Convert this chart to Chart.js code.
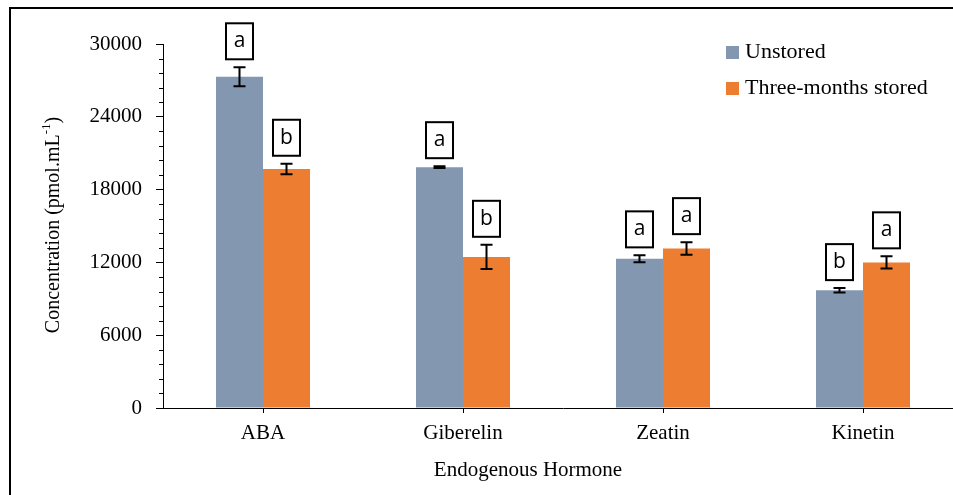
<!DOCTYPE html>
<html>
<head>
<meta charset="utf-8">
<script src="https://cdn.jsdelivr.net/npm/chart.js@4.4.1/dist/chart.umd.min.js"></script>
<style>
    html, body { margin: 0; padding: 0; background: #fff; overflow: hidden; }
    #wrap { width: 953px; height: 495px; overflow: hidden; }
</style>
</head>
<body>
<div id="wrap"><canvas id="barChart" width="973" height="495"></canvas></div>
<script>
// values
const hormones = ["ABA", "Giberelin", "Zeatin", "Kinetin"];
const unstored = [27300, 19850, 12300, 9700];
const unstoredErr = [780, 80, 280, 180];
const stored = [19700, 12450, 13150, 12000];
const storedErr = [430, 1000, 520, 500];
const unstoredLetters = ["a", "a", "a", "b"];
const storedLetters = ["b", "b", "a", "a"];
const yMax = 30000;
const yStep = 6000;
const yMinorStep = 1200;

const serif = "'Liberation Serif', 'DejaVu Serif', serif";
const blue = "#8497b0";
const orange = "#ed7d31";

const errors = [unstoredErr, storedErr];
const letters = [unstoredLetters, storedLetters];

// frame, minor ticks, error bars, letter boxes, legend, titles
const extras = {
    id: "extras",
    afterDraw(chart) {
        const ctx = chart.ctx;
        const y = chart.scales.y;
        ctx.save();

        // outer frame (left + top)
        ctx.strokeStyle = "#000";
        ctx.lineWidth = 2;
        ctx.beginPath();
        ctx.moveTo(10, 495);
        ctx.lineTo(10, 8);
        ctx.lineTo(chart.width, 8);
        ctx.stroke();

        // minor ticks
        ctx.lineWidth = 1;
        for (let v = 0; v <= yMax; v += yMinorStep) {
            if (v % yStep === 0) continue;
            const py = Math.round(y.getPixelForValue(v)) + 0.5;
            ctx.beginPath();
            ctx.moveTo(y.right - 4, py);
            ctx.lineTo(y.right, py);
            ctx.stroke();
        }

        // error bars and letters
        chart.data.datasets.forEach((ds, i) => {
            const meta = chart.getDatasetMeta(i);
            meta.data.forEach((bar, j) => {
                const v = ds.data[j];
                const e = errors[i][j];
                const top = y.getPixelForValue(v + e);
                const bot = y.getPixelForValue(v - e);
                ctx.strokeStyle = "#000";
                ctx.lineWidth = 2;
                ctx.beginPath();
                ctx.moveTo(bar.x, top);
                ctx.lineTo(bar.x, bot);
                ctx.moveTo(bar.x - 6, top);
                ctx.lineTo(bar.x + 6, top);
                ctx.moveTo(bar.x - 6, bot);
                ctx.lineTo(bar.x + 6, bot);
                ctx.stroke();

                const bw = 27, bh = 36;
                const bx = bar.x - bw / 2;
                const by = top - 8 - bh;
                ctx.fillStyle = "#fff";
                ctx.fillRect(bx, by, bw, bh);
                ctx.strokeRect(bx, by, bw, bh);
                ctx.fillStyle = "#000";
                ctx.font = "21px 'Open Sans', sans-serif";
                ctx.textAlign = "center";
                ctx.textBaseline = "middle";
                ctx.fillText(letters[i][j], bar.x, by + bh / 2);
            });
        });

        // legend
        ctx.font = "22px " + serif;
        ctx.textAlign = "left";
        ctx.textBaseline = "middle";
        chart.data.datasets.forEach((ds, i) => {
            const cy = 52 + i * 36;
            ctx.fillStyle = ds.backgroundColor;
            ctx.fillRect(726, cy - 6, 13, 13);
            ctx.fillStyle = "#000";
            ctx.fillText(ds.label, 745, cy);
        });

        // x title
        ctx.font = "21px " + serif;
        ctx.textAlign = "center";
        ctx.fillText("Endogenous Hormone", 528, 470);

        // y title with superscript
        ctx.translate(54, 225);
        ctx.rotate(-Math.PI / 2);
        const main = "Concentration (pmol.mL";
        const sup = "-1";
        const close = ")";
        ctx.font = "20px " + serif;
        const w1 = ctx.measureText(main).width;
        const w3 = ctx.measureText(close).width;
        ctx.font = "13px " + serif;
        const w2 = ctx.measureText(sup).width;
        let x0 = -(w1 + w2 + w3) / 2;
        ctx.textAlign = "left";
        ctx.font = "20px " + serif;
        ctx.fillText(main, x0, 0);
        ctx.font = "13px " + serif;
        ctx.fillText(sup, x0 + w1, -7);
        ctx.font = "20px " + serif;
        ctx.fillText(close, x0 + w1 + w2, 0);

        ctx.restore();
    }
};

const ctx = document.getElementById("barChart");
const chart = new Chart(ctx, {
    type: "bar",
    data: {
        labels: hormones,
        datasets: [{
            label: "Unstored",
            data: unstored,
            backgroundColor: blue,
            borderWidth: 0
        }, {
            label: "Three-months stored",
            data: stored,
            backgroundColor: orange,
            borderWidth: 0
        }]
    },
    options: {
        responsive: false,
        animation: false,
        layout: { padding: { left: 0, right: 10, top: 44, bottom: 0 } },
        datasets: {
            bar: { categoryPercentage: 0.47, barPercentage: 1.0 }
        },
        plugins: {
            legend: { display: false },
            tooltip: { enabled: false }
        },
        scales: {
            x: {
                offset: true,
                afterFit: (s) => { s.height = 87; },
                grid: {
                    offset: false,
                    drawOnChartArea: false,
                    tickLength: 5,
                    tickColor: "#000"
                },
                border: { color: "#000", width: 1 },
                ticks: {
                    color: "#000",
                    padding: 8,
                    font: { family: serif, size: 21 }
                }
            },
            y: {
                min: 0,
                max: yMax,
                afterFit: (s) => { s.width = 163; },
                grid: {
                    drawOnChartArea: false,
                    tickLength: 7,
                    tickColor: "#000"
                },
                border: { color: "#000", width: 1 },
                ticks: {
                    stepSize: yStep,
                    color: "#000",
                    padding: 14,
                    font: { family: serif, size: 21 },
                    callback: (v) => String(v)
                }
            }
        }
    },
    plugins: [extras]
});
</script>
</body>
</html>
